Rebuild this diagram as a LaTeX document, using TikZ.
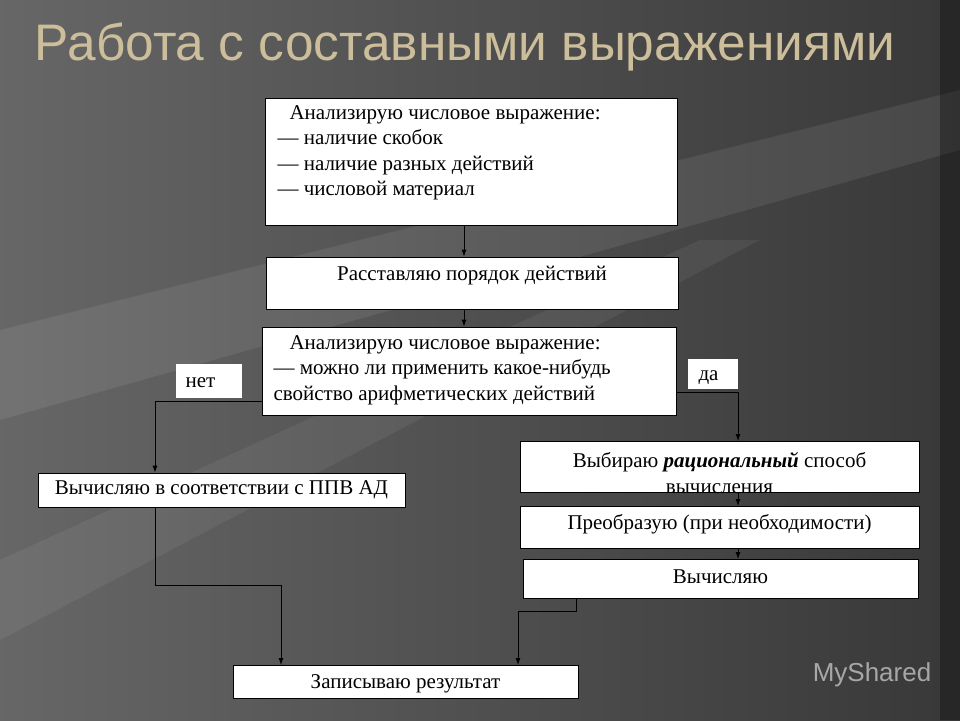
\documentclass[tikz,border=0pt]{standalone}
\usepackage{fontspec}
\setmainfont{Liberation Serif}
\newfontfamily\titlefont{Liberation Sans}
\usetikzlibrary{arrows.meta}
\begin{document}
\begin{tikzpicture}[x=1pt,y=-1pt,
  box/.style={draw=black,fill=white,line width=0.8pt,inner sep=0pt},
  lbl/.style={fill=white,inner sep=0pt},
  conn/.style={draw=black,line width=0.8pt,-{Latex[length=7pt,width=5pt]}},
  txt/.style={font=\fontsize{21}{25.5}\selectfont,text=black}]
\useasboundingbox (0,0) rectangle (960,720);
\shade[left color=gray!85!white!70!black, right color=black!78] (0,0) rectangle (960,720);
\fill[white,opacity=0.08] (0,330) -- (960,90) -- (960,150) -- (0,420) -- cycle;
\fill[white,opacity=0.06] (0,560) -- (700,240) -- (760,240) -- (0,640) -- cycle;
\fill[black,opacity=0.3] (940,0) rectangle (960,720);
\node[font=\titlefont\fontsize{38}{40}\selectfont,text={rgb,255:red,205;green,190;blue,155}] (title) at (465,47) {\resizebox{860pt}{!}{Работа\ с\ составными\ выражениями}};
% boxes
\node[box,minimum width=412,minimum height=127] (b1) at (471,161.5) {};
\node[txt,anchor=north west,align=left] (t1) at (274,102) {\hspace*{12pt}Анализирую числовое выражение:\\— наличие скобок\\— наличие разных действий\\— числовой материал};
\node[box,minimum width=412,minimum height=52] (b2) at (472,283) {};
\node[txt] (t2) at (472,276) {Расставляю порядок действий};
\node[box,minimum width=414,minimum height=88] (b3) at (469,371) {};
\node[txt,anchor=north west,align=left] (t3) at (270,332) {\hspace*{16pt}Анализирую числовое выражение:\\— можно ли применить какое-нибудь\\свойство арифметических действий};
\node[lbl,minimum width=66,minimum height=34] (no) at (209,381) {};
\node[txt,anchor=west] (not) at (182,383) {нет};
\node[lbl,minimum width=50,minimum height=30] (yes) at (713,374) {};
\node[txt,anchor=west] (yest) at (695,378) {да};
\node[box,minimum width=367,minimum height=34] (b4) at (221.5,490) {};
\node[txt] (t4) at (221.5,490) {Вычисляю в соответствии с ППВ АД};
\node[box,minimum width=399,minimum height=51] (b5) at (719.5,466.5) {};
\node[txt,align=center] (t5) at (719.5,473) {Выбираю \textbf{\textit{рациональный}} способ\\вычисления};
\node[box,minimum width=399,minimum height=42] (b6) at (719.5,527) {};
\node[txt] (t6) at (719.5,524) {Преобразую (при необходимости)};
\node[box,minimum width=395,minimum height=39] (b7) at (720.5,578.5) {};
\node[txt] (t7) at (720.5,577) {Вычисляю};
\node[box,minimum width=345,minimum height=33] (b8) at (405.5,681.5) {};
\node[txt] (t8) at (405.5,684) {Записываю результат};
\node[font=\titlefont\fontsize{26}{28}\selectfont,text=white,opacity=0.55] (wm) at (872,675) {MyShared};
% connectors
\draw[conn] (b1.south -| 464,0) -- (b2.north -| 464,0);
\draw[conn] (b2.south -| 464,0) -- (b3.north -| 464,0);
\coordinate (n1) at (b3.west |- 0,401);
\draw[conn] (n1) -| (b4.north -| 155,0);
\coordinate (y1) at (b3.east |- 0,392);
\draw[conn] (y1) -| (738,441);
\draw[conn] (738,492) -- (738,506);
\draw[conn] (738,548) -- (738,559);
\draw[conn] (155,507) -- (155,585) -| (281,665);
\draw[conn] (576,598) -- (576,611) -| (518,665);
\end{tikzpicture}
\end{document}
